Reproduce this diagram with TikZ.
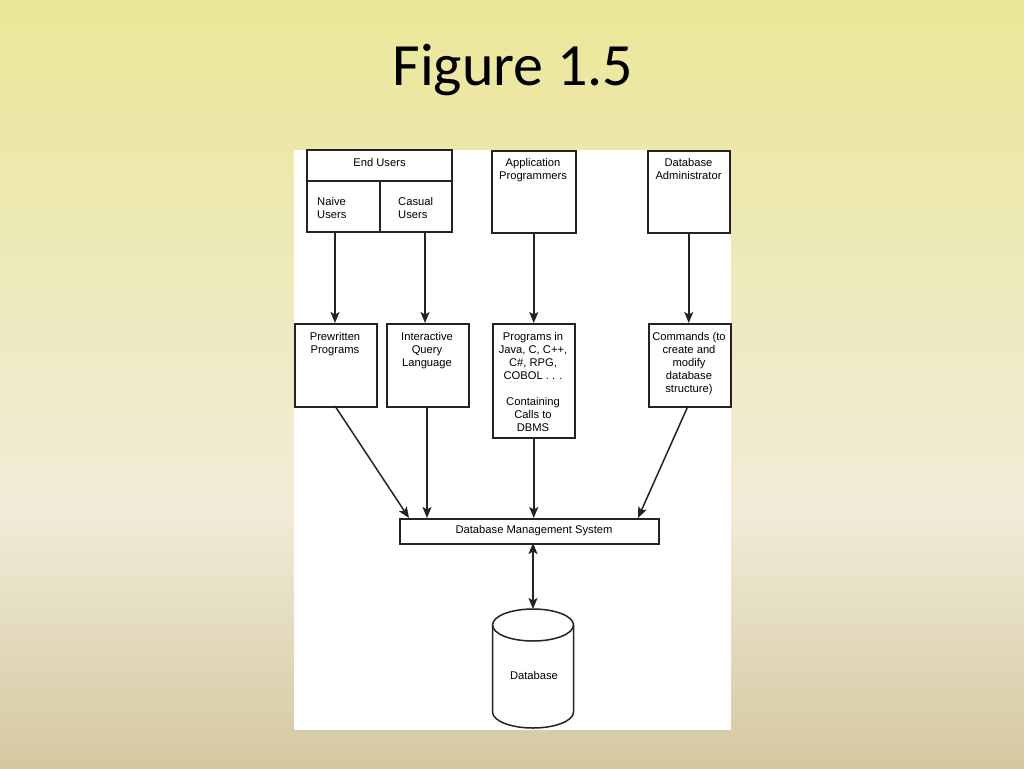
\documentclass[tikz,border=0pt]{standalone}
\usepackage{fontspec}
\setmainfont{Liberation Sans}
\newfontfamily\titlefont{Carlito}
\usetikzlibrary{arrows.meta}
\definecolor{bgtop}{RGB}{235,231,152}
\definecolor{bgmid}{RGB}{240,236,216}
\definecolor{bgbot}{RGB}{213,200,160}
\definecolor{ink}{RGB}{35,35,35}
\begin{document}
\begin{tikzpicture}[x=1pt,y=-1pt,
  box/.style={draw=ink, line width=1.5pt, inner sep=0pt},
  lbl/.style={font=\fontsize{11.2}{13}\selectfont, align=center, inner sep=0pt, text=black},
  lbll/.style={font=\fontsize{11.2}{13}\selectfont, align=left, inner sep=0pt, text=black},
  arr/.style={draw=ink, line width=1.5pt, -{Stealth[length=11pt,width=9pt,inset=2.5pt]}},
  darr/.style={draw=ink, line width=1.5pt, {Stealth[length=11pt,width=9pt,inset=2.5pt]}-{Stealth[length=11pt,width=9pt,inset=2.5pt]}}]
\useasboundingbox (0,0) rectangle (1024,768);
\shade[top color=bgtop, bottom color=bgmid] (0,0) rectangle (1024,510);
\shade[top color=bgmid, bottom color=bgbot] (0,510) rectangle (1024,768);
\fill[white] (294,150) rectangle (731,730);
\node[font=\titlefont\fontsize{60}{61}\selectfont, anchor=base, inner sep=0pt] (title) at (513,85) {Figure 1.5};
% top boxes
\draw[box] (307,150) rectangle (452,232);
\draw[box] (307,181) -- (452,181);
\draw[box] (380,181) -- (380,232);
\node[lbl, anchor=north] (eu) at (379.5,158) {End Users};
\node[lbll, anchor=north west] (naive) at (317,197) {Naive\\Users};
\node[lbll, anchor=north west] (casual) at (398,197) {Casual\\Users};
\coordinate (naiveb) at (335,232);
\coordinate (casualb) at (425,232);
\node[box, minimum width=84pt, minimum height=82pt, anchor=north west] (app) at (491,150) {};
\node[lbl, anchor=north] (applbl) at (533,158) {Application\\Programmers};
\node[box, minimum width=82pt, minimum height=82pt, anchor=north west] (dba) at (647,150) {};
\node[lbl, anchor=north] (dbalbl) at (688.5,158) {Database\\Administrator};
% middle boxes
\node[box, minimum width=82pt, minimum height=83pt, anchor=north west] (pre) at (294,323) {};
\node[lbl, anchor=north] at (335,332) {Prewritten\\Programs};
\node[box, minimum width=82pt, minimum height=83pt, anchor=north west] (iql) at (386,323) {};
\node[lbl, anchor=north] at (427,332) {Interactive\\Query\\Language};
\node[box, minimum width=82pt, minimum height=114pt, anchor=north west] (prog) at (492,323) {};
\node[lbl, anchor=north] at (533,332) {Programs in\\Java, C, C++,\\C\#, RPG,\\COBOL . . .\\[13pt]Containing\\Calls to\\DBMS};
\node[box, minimum width=82pt, minimum height=83pt, anchor=north west] (cmd) at (648,323) {};
\node[lbl, anchor=north] at (689,332) {Commands (to\\create and\\modify\\database\\structure)};
% DBMS
\node[box, minimum width=259pt, minimum height=25pt, anchor=north west] (dbms) at (399,518) {};
\node[lbl] at (534,530.5) {Database Management System};
% arrows
\draw[arr] (naiveb) -- (naiveb |- pre.north);
\draw[arr] (casualb) -- (casualb |- iql.north);
\draw[arr] (app.south) -- (prog.north);
\draw[arr] (dba.south) -- (dba.south |- cmd.north);
\draw[arr] (335,406) -- (409,518);
\draw[arr] (427,406) -- (427,518);
\draw[arr] (prog.south) -- (prog.south |- dbms.north);
\draw[arr] (688,406) -- (638,518);
% database cylinder
\coordinate (dbtop) at (533,609);
\coordinate (dbmsb) at (533,543);
\draw[darr] (dbmsb) -- (dbtop);
\draw[draw=ink, line width=1.5pt, fill=white] (492.5,625) -- (492.5,712) arc[start angle=180, end angle=360, x radius=40.5pt, y radius=16pt] -- (573.5,625);
\draw[draw=ink, line width=1.5pt] (533,625) ellipse[x radius=40.5pt, y radius=16pt];
\node[lbl] (db) at (534,675) {Database};
\end{tikzpicture}
\end{document}
